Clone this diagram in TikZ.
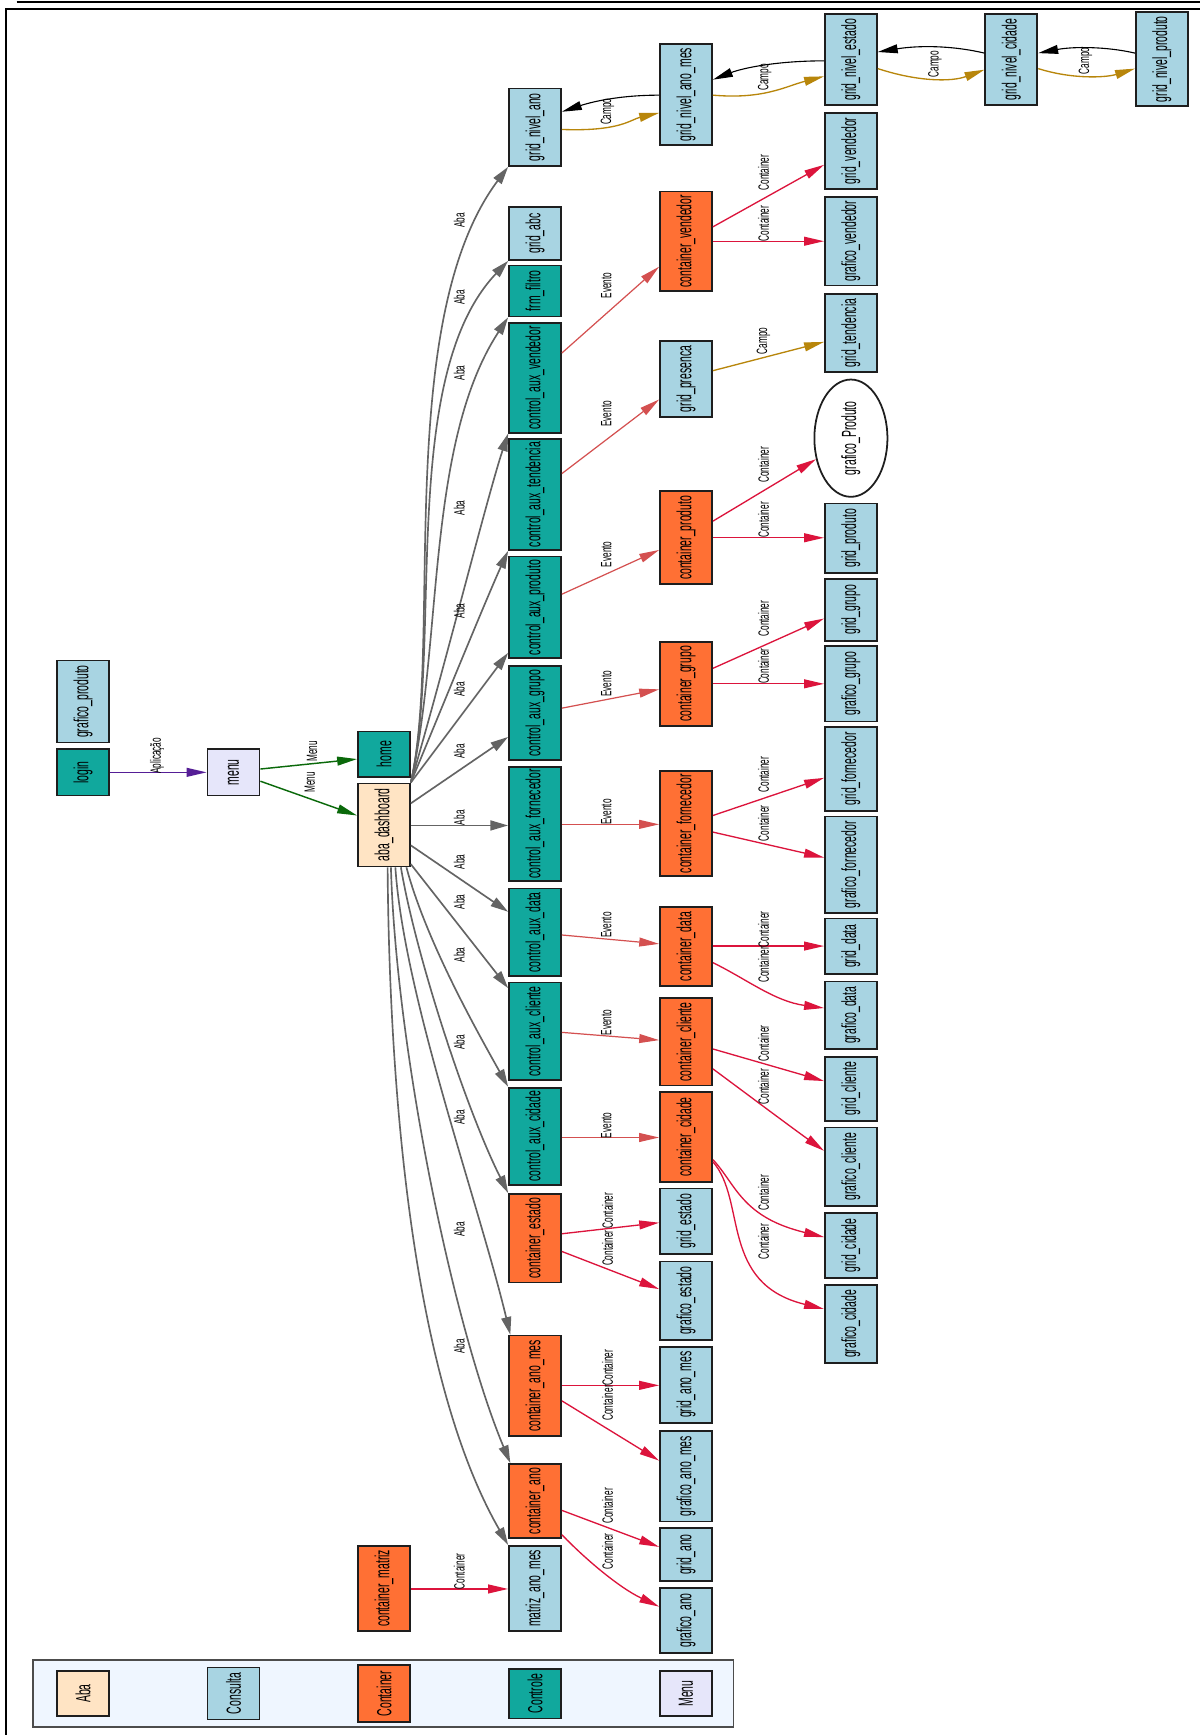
\documentclass[tikz,border=0pt]{standalone}
\usepackage{graphicx}
\usepackage{fontspec}
\newfontfamily\nodefont[FakeStretch=0.51]{Liberation Sans}
\newfontfamily\labfont[FakeStretch=0.55]{Liberation Sans}
\usetikzlibrary{arrows.meta,shapes.geometric}
\definecolor{cteal}{RGB}{17,168,157}
\definecolor{cblue}{RGB}{168,212,226}
\definecolor{corange}{RGB}{255,112,52}
\definecolor{cbisque}{RGB}{255,228,196}
\definecolor{clav}{RGB}{230,230,250}
\definecolor{clegend}{RGB}{239,246,255}
\definecolor{cborder}{RGB}{30,30,30}
\definecolor{cgray}{RGB}{100,100,100}
\definecolor{cevento}{RGB}{212,80,80}
\definecolor{ccont}{RGB}{220,20,60}
\definecolor{cgold}{RGB}{184,134,11}
\definecolor{cgreen}{RGB}{10,105,10}
\definecolor{cindigo}{RGB}{85,30,150}
\newcommand{\bx}[6]{\node[#1,minimum height={#5-#4}] (#2) at (#3,{(#4+#5)/2}) {\rotatebox{90}{#6}};}
\begin{document}
\begin{tikzpicture}[x=1pt,y=-1pt,
  box/.style={draw=cborder,line width=1.6pt,rectangle,minimum width=47pt,inner sep=0pt,font=\nodefont\fontsize{18.5}{18.5}\selectfont},
  tealbox/.style={box,fill=cteal},
  bluebox/.style={box,fill=cblue},
  orangebox/.style={box,fill=corange},
  bisquebox/.style={box,fill=cbisque},
  lavbox/.style={box,fill=clav},
  lab/.style={rotate=90,inner sep=0pt,font=\labfont\fontsize{13.5}{13.5}\selectfont},
  abaedge/.style={draw=cgray,line width=1.5pt,-{Triangle[length=16pt,width=9pt]}},
  eventoedge/.style={draw=cevento,line width=1.1pt,-{Triangle[length=18pt,width=8pt]}},
  contedge/.style={draw=ccont,line width=1.2pt,-{Triangle[length=18pt,width=8pt]}},
  campoedge/.style={draw=cgold,line width=1.2pt,-{Triangle[length=18pt,width=8pt]}},
  campoback/.style={draw=black,line width=1.0pt,-{Triangle[length=18pt,width=8pt]}},
  menuedge/.style={draw=cgreen,line width=1.3pt,-{Triangle[length=18pt,width=8pt]}},
  aplicedge/.style={draw=cindigo,line width=1.2pt,-{Triangle[length=18pt,width=8pt]}}
]
\useasboundingbox (0,0) rectangle (1084,1568);
\fill[white] (0,0) rectangle (1084,1568);
% frame
\draw[line width=1.8pt] (15,1.5) -- (1095,1.5);
\draw[line width=1.8pt] (5,1575) -- (5,8.5) -- (1095,8.5);
% legend
\node[draw=black!70,line width=1.5pt,fill=clegend,minimum width=633pt,minimum height=61pt,inner sep=0pt] (legend) at (346.5,1530.5) {};
\bx{bisquebox}{lgaba}{75}{1510}{1551}{Aba}
\bx{bluebox}{lgcons}{211}{1507}{1554}{Consulta}
\bx{orangebox}{lgcont}{347}{1505}{1556}{Container}
\bx{tealbox}{lgctrl}{483.5}{1508}{1553}{Controle}
\bx{lavbox}{lgmenu}{620}{1510}{1551}{Menu}
% column 0
\bx{bluebox}{gprodtop}{75}{597}{671}{grafico\_produto}
\bx{tealbox}{login}{75}{677}{719}{login}
% column 1
\bx{lavbox}{menu}{211}{677}{719}{menu}
% column 2
\bx{tealbox}{home}{347}{661}{702}{home}
\bx{bisquebox}{aba}{347}{708}{783}{aba\_dashboard}
\bx{orangebox}{cmatriz}{347}{1397}{1474}{container\_matriz}
% column 3
\bx{bluebox}{gnano}{483.5}{80}{150}{grid\_nivel\_ano}
\bx{bluebox}{gabc}{483.5}{187}{235}{grid\_abc}
\bx{tealbox}{frm}{483.5}{240}{286}{frm\_filtro}
\bx{tealbox}{cavend}{483.5}{292}{391}{control\_aux\_vendedor}
\bx{tealbox}{catend}{483.5}{397}{497}{control\_aux\_tendencia}
\bx{tealbox}{caprod}{483.5}{503}{595}{control\_aux\_produto}
\bx{tealbox}{cagrupo}{483.5}{602}{687}{control\_aux\_grupo}
\bx{tealbox}{cafor}{483.5}{693}{796}{control\_aux\_fornecedor}
\bx{tealbox}{cadata}{483.5}{803}{882}{control\_aux\_data}
\bx{tealbox}{cacli}{483.5}{888}{976}{control\_aux\_cliente}
\bx{tealbox}{cacid}{483.5}{983}{1071}{control\_aux\_cidade}
\bx{orangebox}{cest}{483.5}{1079}{1159}{container\_estado}
\bx{orangebox}{canomes}{483.5}{1207}{1298}{container\_ano\_mes}
\bx{orangebox}{cano}{483.5}{1323}{1390}{container\_ano}
\bx{bluebox}{matriz}{483.5}{1397}{1474}{matriz\_ano\_mes}
% column 4
\bx{bluebox}{gnanomes}{620}{40}{131}{grid\_nivel\_ano\_mes}
\bx{orangebox}{cvend}{620}{173}{263}{container\_vendedor}
\bx{bluebox}{gpres}{620}{308}{377}{grid\_presenca}
\bx{orangebox}{cprod}{620}{444}{528}{container\_produto}
\bx{orangebox}{cgrupo}{620}{580}{656}{container\_grupo}
\bx{orangebox}{cfor}{620}{697}{792}{container\_fornecedor}
\bx{orangebox}{cdata}{620}{820}{891}{container\_data}
\bx{orangebox}{ccli}{620}{902}{981}{container\_cliente}
\bx{orangebox}{ccid}{620}{987}{1068}{container\_cidade}
\bx{bluebox}{gest}{620}{1074}{1133}{grid\_estado}
\bx{bluebox}{grest}{620}{1140}{1211}{grafico\_estado}
\bx{bluebox}{ganomes}{620}{1217}{1286}{grid\_ano\_mes}
\bx{bluebox}{granomes}{620}{1293}{1375}{grafico\_ano\_mes}
\bx{bluebox}{gano}{620}{1381}{1429}{grid\_ano}
\bx{bluebox}{grano}{620}{1435}{1494}{grafico\_ano}
% column 5
\bx{bluebox}{gnest}{769}{13}{95}{grid\_nivel\_estado}
\bx{bluebox}{gvend}{769}{102}{171}{grid\_vendedor}
\bx{bluebox}{grvend}{769}{178}{258}{grafico\_vendedor}
\bx{bluebox}{gtend}{769}{266}{336}{grid\_tendencia}
\node[draw=cborder,line width=1.6pt,ellipse,minimum width=66pt,minimum height=106pt,inner sep=0pt,font=\nodefont\fontsize{18.5}{18.5}\selectfont] (grprod) at (769,396) {\rotatebox{90}{grafico\_Produto}};
\bx{bluebox}{gproduto}{769}{455}{518}{grid\_produto}
\bx{bluebox}{ggrupo}{769}{523}{579}{grid\_grupo}
\bx{bluebox}{grgrupo}{769}{584}{652}{grafico\_grupo}
\bx{bluebox}{gfor}{769}{657}{733}{grid\_fornecedor}
\bx{bluebox}{grfor}{769}{738}{825}{grafico\_fornecedor}
\bx{bluebox}{gdata}{769}{830}{880}{grid\_data}
\bx{bluebox}{grdata}{769}{887}{948}{grafico\_data}
\bx{bluebox}{gcli}{769}{955}{1013}{grid\_cliente}
\bx{bluebox}{grcli}{769}{1019}{1090}{grafico\_cliente}
\bx{bluebox}{gcid}{769}{1096}{1155}{grid\_cidade}
\bx{bluebox}{grcid}{769}{1161}{1232}{grafico\_cidade}
% columns 6,7
\bx{bluebox}{gncid}{914}{13}{95}{grid\_nivel\_cidade}
\bx{bluebox}{gnprod}{1050}{11}{96}{grid\_nivel\_produto}
% ---- edges
\draw[aplicedge] (login.east |- 0,698) -- (menu.west |- 0,698) node[lab] at (142,683) {Aplicação};
\draw[menuedge] (menu.east |- 0,695) -- (home.west |- 0,686) node[lab] at (282,679) {Menu};
\draw[menuedge] (menu.east |- 0,706) -- (aba.west |- 0,737) node[lab] at (280,707) {Menu};
% Aba upper
\draw[abaedge] (aba.north east) .. controls (400,580) and (355,290) .. (gnano.south west) node[lab] at (415,199) {Aba};
\draw[abaedge] (aba.north east) .. controls (400,580) and (360,340) .. (gabc.south west) node[lab] at (415,269) {Aba};
\draw[abaedge] (aba.north east) .. controls (400,580) and (385,400) .. (frm.south west) node[lab] at (415,337) {Aba};
\draw[abaedge] (aba.north east) .. controls (400,610) and (440,450) .. (cavend.south west) node[lab] at (415,459) {Aba};
\draw[abaedge] (aba.north east) .. controls (395,650) and (440,540) .. (catend.south west) node[lab] at (415,552) {Aba};
\draw[abaedge] (aba.north east) -- (caprod.west |- 0,590) node[lab] at (415,623) {Aba};
\draw[abaedge] (aba.east |- 0,726) -- (cagrupo.west |- 0,666) node[lab] at (415,679) {Aba};
\draw[abaedge] (aba.east |- 0,746) -- (cafor.west |- 0,746) node[lab] at (415,739) {Aba};
\draw[abaedge] (aba.east |- 0,764) -- (cadata.west |- 0,824) node[lab] at (415,779) {Aba};
\draw[abaedge] (aba.east |- 0,781) -- (cacli.west |- 0,893) node[lab] at (415,815) {Aba};
% Aba lower
\draw[abaedge] ([xshift=-4pt]aba.south east) .. controls (385,850) and (430,930) .. (cacid.north west) node[lab] at (415,863) {Aba};
\draw[abaedge] ([xshift=-9pt]aba.south east) .. controls (375,860) and (420,1000) .. (cest.north west) node[lab] at (415,942) {Aba};
\draw[abaedge] ([xshift=-14pt]aba.south east) .. controls (365,900) and (432,1085) .. ([xshift=2pt]canomes.north west) node[lab] at (415,1010) {Aba};
\draw[abaedge] ([xshift=-18pt]aba.south east) .. controls (358,950) and (410,1200) .. ([xshift=2pt]cano.north west) node[lab] at (415,1111) {Aba};
\draw[abaedge] ([xshift=-21pt]aba.south east) .. controls (352,1000) and (375,1250) .. (matriz.north west) node[lab] at (415,1217) {Aba};
% Evento
\draw[eventoedge] (cavend.east |- 0,319) -- (cvend.west |- 0,241) node[lab] at (548,258) {Evento};
\draw[eventoedge] (catend.east |- 0,428) -- (gpres.west |- 0,361) node[lab] at (548,374) {Evento};
\draw[eventoedge] (caprod.east |- 0,537) -- (cprod.west |- 0,497) node[lab] at (548,501) {Evento};
\draw[eventoedge] (cagrupo.east |- 0,640) -- (cgrupo.west |- 0,623) node[lab] at (548,618) {Evento};
\draw[eventoedge] (cafor.east |- 0,745) -- (cfor.west |- 0,745) node[lab] at (548,734) {Evento};
\draw[eventoedge] (cadata.east |- 0,845) -- (cdata.west |- 0,853) node[lab] at (548,836) {Evento};
\draw[eventoedge] (cacli.east |- 0,933) -- (ccli.west |- 0,940) node[lab] at (548,924) {Evento};
\draw[eventoedge] (cacid.east |- 0,1028) -- (ccid.west |- 0,1028) node[lab] at (548,1017) {Evento};
% Container col4 -> col5
\draw[contedge] (cvend.east |- 0,205) -- (gvend.west |- 0,149) node[lab] at (690,156) {Container};
\draw[contedge] (cvend.east |- 0,218) -- (grvend.west |- 0,218) node[lab] at (690,202) {Container};
\draw[campoedge] (gpres.east |- 0,335) -- (gtend.west |- 0,309) node[lab] at (690,308) {Campo};
\draw[contedge] (cprod.east |- 0,471) -- (grprod) node[lab] at (690,420) {Container};
\draw[contedge] (cprod.east |- 0,486) -- (gproduto.west |- 0,486) node[lab] at (690,470) {Container};
\draw[contedge] (cgrupo.east |- 0,604) -- (ggrupo.west |- 0,559) node[lab] at (690,559) {Container};
\draw[contedge] (cgrupo.east |- 0,618) -- (grgrupo.west |- 0,618) node[lab] at (690,602) {Container};
\draw[contedge] (cfor.east |- 0,737) -- (gfor.west |- 0,703) node[lab] at (690,700) {Container};
\draw[contedge] (cfor.east |- 0,752) -- (grfor.west |- 0,775) node[lab] at (690,744) {Container};
\draw[contedge] (cdata.east |- 0,855) -- (gdata.west |- 0,855) node[lab] at (690,840) {Container};
\draw[contedge] (cdata.east |- 0,870) .. controls (675,885) and (700,905) .. (grdata.west |- 0,911) node[lab] at (690,872) {Container};
\draw[contedge] (ccli.east |- 0,948) -- (gcli.west |- 0,977) node[lab] at (690,943) {Container};
\draw[contedge] (ccli.east |- 0,966) .. controls (670,985) and (710,1015) .. (grcli.west |- 0,1040) node[lab] at (690,982) {Container};
\draw[contedge] (ccid.east |- 0,1048) .. controls (665,1070) and (670,1100) .. (gcid.west |- 0,1118) node[lab] at (690,1078) {Container};
\draw[contedge] (ccid.east |- 0,1050) .. controls (675,1085) and (650,1160) .. (grcid.west |- 0,1183) node[lab] at (690,1122) {Container};
% Container col3 -> col4
\draw[contedge] (cest.east |- 0,1115) -- (gest.west |- 0,1105) node[lab] at (549,1094) {Container};
\draw[contedge] (cest.east |- 0,1131) -- (grest.west |- 0,1165) node[lab] at (549,1128) {Container};
\draw[contedge] (canomes.east |- 0,1252) -- (ganomes.west |- 0,1252) node[lab] at (549,1236) {Container};
\draw[contedge] (canomes.east |- 0,1266) -- (granomes.west |- 0,1320) node[lab] at (549,1268) {Container};
\draw[contedge] (cano.east |- 0,1365) -- (gano.west |- 0,1398) node[lab] at (549,1361) {Container};
\draw[contedge] (cano.east |- 0,1387) .. controls (530,1410) and (560,1435) .. (grano.west |- 0,1452) node[lab] at (549,1402) {Container};
\draw[contedge] (cmatriz.east |- 0,1436) -- (matriz.west |- 0,1436) node[lab] at (415,1420) {Container};
% Campo chain
\draw[campoedge] (gnano.east |- 0,117) .. controls (560,119) and (570,108) .. (gnanomes.west |- 0,102);
\draw[campoback] (gnanomes.west |- 0,86) .. controls (560,86) and (535,92) .. (gnano.east |- 0,101) node[lab] at (549,101) {Campo};
\draw[campoedge] (gnanomes.east |- 0,86) .. controls (690,90) and (710,78) .. (gnest.west |- 0,69);
\draw[campoback] (gnest.west |- 0,55) .. controls (700,55) and (670,62) .. (gnanomes.east |- 0,72) node[lab] at (691,70) {Campo};
\draw[campoedge] (gnest.east |- 0,62) .. controls (830,74) and (860,74) .. (gncid.west |- 0,63);
\draw[campoback] (gncid.west |- 0,48) .. controls (860,41) and (830,41) .. (gnest.east |- 0,47) node[lab] at (845,58) {Campo};
\draw[campoedge] (gncid.east |- 0,62) .. controls (970,72) and (1000,70) .. (gnprod.west |- 0,62);
\draw[campoback] (gnprod.west |- 0,48) .. controls (1000,42) and (970,42) .. (gncid.east |- 0,48) node[lab] at (981,55) {Campo};
\end{tikzpicture}
\end{document}
